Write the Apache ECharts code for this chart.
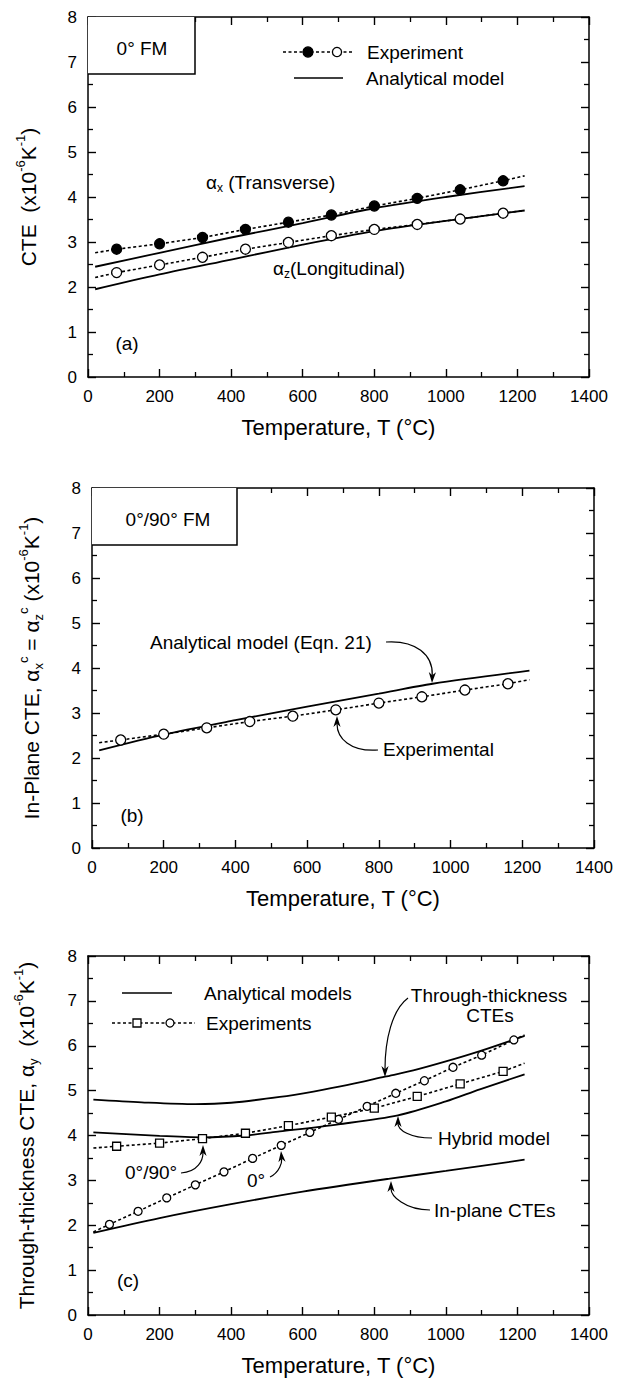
<!DOCTYPE html>
<html><head><meta charset="utf-8">
<script src="https://cdn.jsdelivr.net/npm/echarts@6/dist/echarts.min.js"></script>
<style>html,body{margin:0;padding:0;background:#fff}#c{width:626px;height:1384px}</style>
</head><body><div id="c"></div>
<script>
// ---------- Panel (a): 0° FM ----------
const tA = [80,200,320,440,560,680,800,920,1040,1160];
const aTransExp = [2.84,2.96,3.10,3.28,3.44,3.60,3.80,3.97,4.16,4.36];
const aLongExp  = [2.32,2.49,2.66,2.84,2.99,3.14,3.28,3.39,3.51,3.64];
const aFitT = [20,1220];
const aTransFitEnds = [2.76,4.47];
const aLongFitEnds  = [2.21,3.70];
const aModelT = [20,200,400,600,800,1000,1220];
const aTransModel = [2.45,2.76,3.10,3.42,3.75,4.00,4.24];
const aLongModel  = [1.95,2.28,2.61,2.94,3.24,3.47,3.70];

// ---------- Panel (b): 0°/90° FM ----------
const tB = [80,200,320,440,560,680,800,920,1040,1160];
const bExp = [2.40,2.53,2.67,2.81,2.93,3.07,3.22,3.36,3.51,3.65];
const bFitT = [20,1220];
const bFitEnds = [2.34,3.74];
const bModelT = [20,200,400,600,800,950,1220];
const bModel  = [2.17,2.52,2.84,3.14,3.43,3.65,3.94];

// ---------- Panel (c): through-thickness ----------
const t0 = [60,140,220,300,380,460,540,620,700,780,860,940,1020,1100,1190];
const c0Exp = [2.02,2.31,2.61,2.90,3.19,3.49,3.78,4.07,4.36,4.65,4.94,5.22,5.52,5.79,6.13];
const t090 = [80,200,320,440,560,680,800,920,1040,1160];
const c090Exp = [3.76,3.83,3.93,4.05,4.22,4.41,4.61,4.87,5.15,5.43];
const cFitT = [15,1220];
const c0FitEnds = [1.85,6.24];
const c090FitEnds = [3.72,5.61];
const cThroughT = [15,150,300,400,536,630,723,830,909,1000,1095,1220];
const cThrough  = [4.80,4.74,4.70,4.73,4.86,4.98,5.12,5.31,5.45,5.65,5.88,6.22];
const cHybridT = [15,200,320,440,536,700,866,1000,1095,1220];
const cHybrid  = [4.07,3.99,3.96,4.00,4.09,4.25,4.45,4.76,5.03,5.36];
const cInPlaneT = [15,200,400,600,844,1000,1220];
const cInPlane  = [1.83,2.16,2.47,2.75,3.04,3.21,3.46];

const xTicks = [0,200,400,600,800,1000,1200,1400];
const yTicks = [0,1,2,3,4,5,6,7,8];

const FONT = '"Liberation Sans", Arial, Helvetica, sans-serif';
const zip = (xs, ys) => xs.map((x,i)=>[x, ys[i]]);
const withEnds = (ft, ends, xs, ys) => [[ft[0],ends[0]], ...zip(xs,ys), [ft[1],ends[1]]];

const grids = [
  {left:88, top:17, width:501, height:360},
  {left:92, top:488, width:502, height:360},
  {left:88, top:956, width:501, height:359}
];

const yNames = [
  '{n|CTE  (x10}{sup|-6}{n|K}{sup|-1}{n|)}',
  '{n|In-Plane CTE, α}{sub|x}{sup|c}{n| = α}{sub|z}{sup|c}{n| (x10}{sup|-6}{n|K}{sup|-1}{n|)}',
  '{n|Through-thickness CTE, α}{sub|y}{n|  (x10}{sup|-6}{n|K}{sup|-1}{n|)}'
];
const richY = {
  n:{fontSize:21, fontFamily:FONT, color:'#000', lineHeight:28},
  sup:{fontSize:13, fontFamily:FONT, color:'#000', lineHeight:14, verticalAlign:'top'},
  sub:{fontSize:13, fontFamily:FONT, color:'#000', lineHeight:14, verticalAlign:'bottom'}
};

function axisCommon(main){
  return {
    axisLine:{show:true, onZero:false, lineStyle:{color:'#000', width:1.5}},
    axisTick:{show:true, inside:true, length:8, lineStyle:{color:'#000', width:1.4}},
    minorTick:{show:true, splitNumber:2, length:5, lineStyle:{color:'#000', width:1.3}},
    splitLine:{show:false}, minorSplitLine:{show:false},
    axisLabel:{show:main, margin:11, color:'#000', fontSize:17, fontFamily:FONT, formatter:v=>String(v)},
    nameMoveOverlap:false
  };
}
const xAxes = [], yAxes = [];
grids.forEach((g,gi)=>{
  ['bottom','top'].forEach(pos=>{
    const main = pos==='bottom';
    xAxes.push(Object.assign(axisCommon(main), {
      type:'value', gridIndex:gi, position:pos, min:xTicks[0], max:xTicks[xTicks.length-1], interval:200,
      name: main ? 'Temperature, T (°C)' : '', nameLocation:'middle', nameGap:39,
      nameTextStyle:{fontSize:22, fontFamily:FONT, color:'#000'}
    }));
  });
  ['left','right'].forEach(pos=>{
    const main = pos==='left';
    yAxes.push(Object.assign(axisCommon(main), {
      type:'value', gridIndex:gi, position:pos, min:yTicks[0], max:yTicks[yTicks.length-1], interval:1,
      name: main ? yNames[gi] : '', nameLocation:'middle', nameRotate:90, nameGap:[46,47,48][gi],
      nameTextStyle:{rich:richY}
    }));
  });
});

function solid(gi, data){
  return {type:'line', xAxisIndex:2*gi, yAxisIndex:2*gi, data, symbol:'none', silent:true, smooth:0.3,
    lineStyle:{color:'#000', width:1.8}, z:2, animation:false};
}
function dotted(gi, data){
  return {type:'line', xAxisIndex:2*gi, yAxisIndex:2*gi, data, symbol:'none', silent:true,
    lineStyle:{color:'#000', width:1.6, type:[3,2.5]}, z:3, animation:false};
}
function pts(gi, data, symbol, size, fill){
  return {type:'scatter', xAxisIndex:2*gi, yAxisIndex:2*gi, data, symbol, symbolSize:size, silent:true,
    itemStyle:{color:fill, borderColor:'#000', borderWidth:1.3, opacity:1}, z:5, animation:false};
}

const series = [
  solid(0, zip(aModelT, aTransModel)),
  solid(0, zip(aModelT, aLongModel)),
  dotted(0, withEnds(aFitT, aTransFitEnds, tA, aTransExp)),
  dotted(0, withEnds(aFitT, aLongFitEnds, tA, aLongExp)),
  pts(0, zip(tA, aTransExp), 'circle', 10, '#000'),
  pts(0, zip(tA, aLongExp), 'circle', 10, '#fff'),

  solid(1, zip(bModelT, bModel)),
  dotted(1, withEnds(bFitT, bFitEnds, tB, bExp)),
  pts(1, zip(tB, bExp), 'circle', 10, '#fff'),

  solid(2, zip(cThroughT, cThrough)),
  solid(2, zip(cHybridT, cHybrid)),
  solid(2, zip(cInPlaneT, cInPlane)),
  dotted(2, withEnds(cFitT, c0FitEnds, t0, c0Exp)),
  dotted(2, withEnds(cFitT, c090FitEnds, t090, c090Exp)),
  pts(2, zip(t0, c0Exp), 'circle', 8, '#fff'),
  pts(2, zip(t090, c090Exp), 'rect', 8, '#fff')
];

// ---------- annotations (graphic) ----------
const G = [];
const richA = {
  n:{fontSize:19, fontFamily:FONT, color:'#000', lineHeight:24},
  sub:{fontSize:12, fontFamily:FONT, color:'#000', lineHeight:12, verticalAlign:'bottom'}
};
function txt(x, y, text, align){
  G.push({type:'text', x, y, z:20, silent:true,
    style:{text, fill:'#000', fontSize:19, fontFamily:FONT, align:align||'left', verticalAlign:'middle', rich:richA}});
}
function line(points, dash, w){
  G.push({type:'polyline', z:20, silent:true, shape:{points},
    style:{stroke:'#000', lineWidth:w||1.5, fill:null, lineDash:dash||null}});
}
function circ(cx, cy, r, fill){
  G.push({type:'circle', z:21, silent:true, shape:{cx, cy, r}, style:{fill, stroke:'#000', lineWidth:1.3}});
}
function sq(cx, cy, s){
  G.push({type:'rect', z:21, silent:true, shape:{x:cx-s/2, y:cy-s/2, width:s, height:s}, style:{fill:'#fff', stroke:'#000', lineWidth:1.3}});
}
function arrow(x1,y1,cx1,cy1,cx2,cy2,x2,y2){
  let dx = x2-cx2, dy = y2-cy2; const L = Math.hypot(dx,dy)||1; dx/=L; dy/=L;
  const nx = -dy, ny = dx, len = 11, hw = 3.6;
  const bx = x2 - dx*len, by = y2 - dy*len;
  const mx = x2 - dx*len*0.7, my = y2 - dy*len*0.7;
  G.push({type:'bezierCurve', z:20, silent:true,
    shape:{x1,y1,cpx1:cx1,cpy1:cy1,cpx2:cx2,cpy2:cy2,x2:mx,y2:my},
    style:{stroke:'#000', lineWidth:1.2, fill:null}});
  G.push({type:'polygon', z:21, silent:true,
    shape:{points:[[x2,y2],[bx+nx*hw,by+ny*hw],[mx,my],[bx-nx*hw,by-ny*hw]]},
    style:{fill:'#000'}});
}

// panel a
G.push({type:'rect', z:15, silent:true, shape:{x:88, y:17, width:107, height:57}, style:{fill:'#fff'}});
line([[88,74],[195,74],[195,17]]);
txt(142, 48, '0° FM', 'center');
line([[283,52],[353,52]], [3,2.5], 1.4);
circ(308, 52, 5, '#000'); circ(337, 52, 4.6, '#fff');
txt(367, 52, 'Experiment');
line([[294,78],[343,78]], null, 1.6);
txt(366, 78, 'Analytical model');
txt(206, 182, '{n|α}{sub|x}{n| (Transverse)}');
txt(273, 268, '{n|α}{sub|z}{n|(Longitudinal)}');
txt(127, 343, '(a)', 'center');

// panel b
G.push({type:'rect', z:15, silent:true, shape:{x:92, y:488, width:145, height:57}, style:{fill:'#fff'}});
line([[92,545],[237,545],[237,488]]);
txt(168, 519, '0°/90° FM', 'center');
txt(150, 642, 'Analytical model (Eqn. 21)');
arrow(386,642, 416,640, 433,655, 432,683);
txt(383, 749, 'Experimental');
arrow(378,750, 350,752, 337,738, 337,716);
txt(132, 815, '(b)', 'center');

// panel c
line([[122,993],[172,993]], null, 1.6);
txt(204, 993, 'Analytical models');
line([[112,1023],[195,1023]], [3,2.5], 1.4);
sq(137, 1023, 8); circ(170, 1023, 4, '#fff');
txt(206, 1023, 'Experiments');
txt(489, 995, 'Through-thickness', 'center');
txt(490, 1015, 'CTEs', 'center');
arrow(408,998, 392,1010, 385,1040, 385,1077);
txt(438, 1138, 'Hybrid model');
arrow(432,1138, 410,1138, 398,1130, 398,1116);
txt(434, 1210, 'In-plane CTEs');
arrow(430,1210, 405,1210, 391,1196, 391,1181);
txt(125, 1172, '0°/90°');
arrow(181,1173, 198,1172, 203,1160, 203,1145);
txt(247, 1180, '0°');
arrow(270,1177, 280,1172, 282,1162, 281,1151);
txt(128, 1280, '(c)', 'center');

const chart = echarts.init(document.getElementById('c'), null, {renderer:'svg', width:626, height:1384});
chart.setOption({
  animation:false,
  backgroundColor:'#fff',
  grid: grids.map(g=>Object.assign({outerBoundsMode:'none', containLabel:false}, g)),
  xAxis: xAxes,
  yAxis: yAxes,
  series,
  graphic: G
});
</script></body></html>
